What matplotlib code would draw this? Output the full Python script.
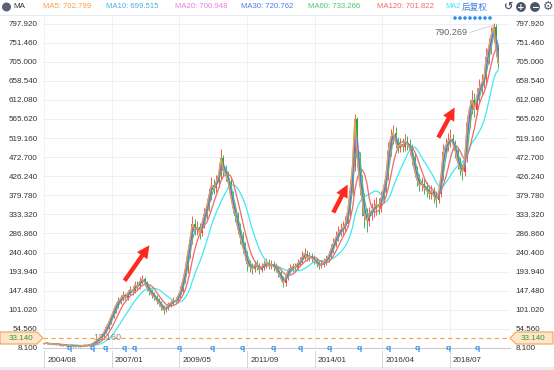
import numpy as np
import pandas as pd
import matplotlib
matplotlib.use("Agg")
import matplotlib.pyplot as plt
from matplotlib.patches import Polygon, FancyArrowPatch, Circle
from matplotlib.lines import Line2D
from matplotlib.transforms import IdentityTransform

W, H = 554, 370

# monthly bars, index 0 = 2004/08
closes = [
    19, 20, 18, 19, 17, 18, 16, 15, 16, 14, 13, 14, 12, 13, 12, 14, 13, 15, 14, 16,
    18, 22, 26, 32, 38, 46, 58, 70, 84, 98, 112, 122, 128, 136, 130, 142, 150, 146, 162, 158,
    170, 176, 168, 155, 146, 138, 132, 124, 118, 108, 100, 106, 114, 118, 124, 122, 134, 148, 172, 198,
    236, 270, 310, 296, 302, 288, 310, 334, 352, 380, 405, 398, 412, 430, 470, 440, 430, 412, 380, 350,
    330, 300, 278, 256, 236, 212, 206, 200, 210, 208, 198, 206, 212, 216, 208, 212, 206, 200, 190, 178,
    166, 180, 196, 202, 206, 204, 214, 218, 230, 238, 228, 232, 226, 222, 214, 208, 212, 216, 224, 232,
    248, 262, 276, 288, 296, 300, 310, 340, 390, 450, 565, 470, 410, 370, 330, 318, 336, 342, 350, 358,
    352, 372, 396, 426, 488, 520, 532, 510, 496, 504, 498, 512, 504, 494, 470, 440, 418, 404, 408, 398,
    392, 384, 390, 378, 368, 384, 424, 486, 500, 512, 518, 506, 488, 460, 444, 436, 470, 556, 592, 612,
    588, 620, 640, 652, 664, 716, 740, 768, 790, 738, 702,
]
highs = [
    21, 22, 21, 20, 20, 19, 19, 17, 17, 17, 15, 15, 15, 14, 14, 15, 15, 16, 16, 17,
    20, 24, 28, 35, 42, 50, 62, 76, 90, 106, 120, 132, 138, 146, 142, 150, 160, 158, 170, 172,
    180, 186, 182, 172, 160, 152, 144, 136, 130, 122, 112, 112, 120, 126, 132, 132, 142, 158, 182, 210,
    250, 286, 330, 322, 318, 312, 324, 350, 370, 398, 424, 420, 430, 448, 492, 478, 454, 440, 420, 390,
    362, 340, 312, 290, 266, 244, 222, 214, 220, 222, 216, 214, 222, 228, 224, 222, 220, 214, 206, 196,
    184, 188, 204, 212, 216, 214, 224, 230, 244, 252, 246, 242, 240, 234, 228, 220, 220, 226, 234, 244,
    262, 276, 292, 304, 312, 318, 330, 362, 416, 478, 578, 570, 486, 430, 386, 350, 352, 360, 370, 376,
    374, 390, 414, 448, 510, 540, 550, 546, 522, 520, 520, 528, 524, 516, 504, 482, 452, 432, 424, 420,
    412, 404, 406, 400, 390, 398, 440, 504, 520, 532, 540, 530, 514, 496, 474, 456, 486, 572, 612, 636,
    628, 642, 662, 676, 690, 738, 762, 790, 798, 796, 748,
]
lows = [
    17, 18, 17, 17, 16, 16, 15, 13, 14, 12, 11, 12, 10, 11, 11, 11, 12, 12, 13, 13,
    15, 17, 21, 24, 30, 36, 44, 55, 66, 80, 94, 106, 116, 122, 124, 126, 136, 138, 142, 150,
    152, 164, 160, 148, 138, 130, 124, 116, 110, 100, 92, 96, 100, 108, 112, 114, 118, 130, 144, 166,
    190, 228, 262, 282, 284, 274, 280, 300, 322, 342, 368, 384, 388, 400, 420, 426, 414, 398, 366, 336,
    314, 286, 262, 240, 222, 196, 192, 188, 194, 198, 188, 192, 198, 204, 200, 200, 196, 192, 180, 170,
    156, 160, 174, 190, 194, 196, 198, 208, 212, 222, 220, 220, 218, 212, 206, 200, 202, 206, 210, 218,
    226, 240, 254, 268, 280, 284, 290, 302, 330, 380, 440, 450, 380, 330, 300, 290, 304, 320, 326, 332,
    334, 340, 362, 386, 416, 476, 504, 494, 482, 484, 484, 488, 490, 478, 454, 424, 402, 390, 390, 384,
    376, 370, 370, 362, 352, 360, 376, 416, 476, 488, 498, 490, 470, 444, 428, 418, 426, 462, 544, 578,
    570, 576, 608, 626, 640, 650, 700, 724, 752, 720, 690,
]

date_labels = ["2004/08", "2007/01", "2009/05", "2011/09", "2014/01", "2016/04", "2018/07"]
date_idx = [0, 28.3, 56.6, 84.9, 113.2, 141.5, 169.8]

ytick_labels = ["8.100", "54.560", "101.020", "147.480", "193.940", "240.400", "286.860",
                "333.320", "379.780", "426.240", "472.700", "519.160", "565.620", "612.080",
                "658.540", "705.000", "751.460", "797.920"]

ma_names = ["MA5", "MA10", "MA20", "MA30", "MA60", "MA120", "MA250"]
ma_values = ["702.799", "699.515", "700.948", "720.762", "733.266", "701.822"]
ma_windows = [1, 1, 2, 2, 3, 6, 12]   # in monthly samples
ma_colors = ["#f5a045", "#4bb0e6", "#e87ee6", "#4a78ec", "#4cc46e", "#f26868", "#3eeaf0"]

div_idx = [10.5, 20.1, 25.5, 33.5, 37.7, 56.5, 70.3, 82.8, 95.8, 107.1, 119.2,
           131.8, 143.9, 156.1, 169.0, 181.2]

ref_price = 33.14
peak_label = "790.269"
low_label = "12.160"

plt.rcParams["font.family"] = ["Liberation Sans", "DejaVu Sans"]

fig = plt.figure(figsize=(W / 100, H / 100), dpi=100)
fig.patch.set_facecolor("white")
ax = fig.add_axes([43 / W, (H - 348) / H, 467 / W, 332 / H])

c = np.array(closes, dtype=float)
o = np.r_[c[0], c[:-1]]
hi = np.array(highs, dtype=float)
lo = np.array(lows, dtype=float)
x = np.arange(len(c))
up = c >= o
for m, col in [(up, "#f2403c"), (~up, "#25a846")]:
    ax.vlines(x[m], lo[m], hi[m], color=col, lw=0.6, zorder=3)
    ax.bar(x[m], np.maximum(np.abs(c[m] - o[m]), 2), bottom=np.minimum(c[m], o[m]),
           width=0.8, color=col, lw=0, zorder=3)

s = pd.Series(c)
for k in [6, 5, 4, 2, 1, 3, 0]:
    ma = s.rolling(ma_windows[k]).mean()
    ax.plot(x, ma, color=ma_colors[k], lw=0.9, zorder=4)

yt = [float(v) for v in ytick_labels]
ax.set_ylim(8.1, 816.2)
ax.set_xlim(-0.5, 194.9)
ax.set_yticks(yt)
ax.set_yticklabels(ytick_labels)
ax.set_xticks(date_idx)
ax.set_xticklabels([])
ax.tick_params(axis="y", length=0, labelsize=5.8, labelcolor="#333333",
               labelleft=True, labelright=True, pad=4)
ax.tick_params(axis="x", length=0)
ax.grid(True, color="#edf0f4", lw=0.7)
ax.set_axisbelow(True)
for sp in ["left", "right", "top"]:
    ax.spines[sp].set_visible(False)
ax.spines["bottom"].set_color("#c9cdd3")
ax.spines["bottom"].set_linewidth(0.8)

# reference price line
ax.axhline(ref_price, color="#f5a045", lw=0.8, ls=(0, (4, 3)), zorder=5)

# dividend markers
for d in div_idx:
    ax.text(d, 8.1, "q", color="#2d8cf0", fontsize=6, fontweight="bold",
            ha="center", va="center", clip_on=False, zorder=6)

# annotations
ax.text(177, 775, peak_label, fontsize=6.6, color="#666666", ha="right", va="center", zorder=6)
ax.plot([178, 188], [776, 794], color="#cccccc", lw=0.6, zorder=6)
ax.text(26.5, 33, low_label, fontsize=6.6, color="#888888", ha="center", va="center", zorder=6)


def fx(px, py):
    return px / W, 1 - py / H


def ptxt(px, py, t, **kw):
    return fig.text(px / W, 1 - py / H, t, **kw)


# price tag boxes
for pts, tx in [([(0, 332), (37, 332), (43, 338), (37, 344), (0, 344)], 21),
                ([(510, 338), (516, 332), (553, 332), (553, 344), (516, 344)], 533)]:
    fig.add_artist(Polygon([fx(*p) for p in pts], closed=True, transform=fig.transFigure,
                           facecolor="#fde6cb", edgecolor="#f2a54e", lw=0.8, zorder=10))
    ptxt(tx, 338.5, "33.140", fontsize=5.8, color="#3b9a2c", ha="center", va="center", zorder=11)

# bottom date strip
fig.add_artist(Polygon([fx(0, 367), fx(W, 367), fx(W, 370), fx(0, 370)], closed=True,
                       transform=fig.transFigure, facecolor="#e8ebef", lw=0))
for d, lab in zip(date_idx, date_labels):
    px = 43 + (d + 0.5) * 467 / 195.4
    fig.add_artist(Line2D([px / W, px / W], [1 - 351 / H, 1 - 367 / H], color="#d3d7dc", lw=0.7))
    ptxt(px + 3, 361, lab, fontsize=5.8, color="#333333", ha="left", va="center")

# header
fig.add_artist(Line2D([0, 1], [1 - 15 / H, 1 - 15 / H], color="#e6e9ed", lw=0.7))
fig.add_artist(Circle((6.5, H - 7), 3.8, transform=IdentityTransform(), color="#5b6477"))
ptxt(13, 7, "MA", fontsize=5.8, color="#333333", va="center")
head_x = [43, 106, 175, 241, 308, 377]
for hx, nm, v, col in zip(head_x, ma_names, ma_values, ma_colors):
    ptxt(hx, 7, f"{nm}: {v}", fontsize=5.6, color=col, va="center")
ptxt(445, 7, "MA2", fontsize=5.3, color=ma_colors[6], va="center")
ptxt(462, 7, "后复权", fontsize=6.2, color="#3f7de0", va="center",
     family=["Noto Sans CJK SC", "DejaVu Sans"])
ptxt(508, 7, "↺", fontsize=8, color="#4a5568", ha="center", va="center",
     family=["DejaVu Sans"], fontweight="bold")
for cx, sym in [(521, "+"), (535, "−")]:
    fig.add_artist(Circle((cx, H - 7), 4.2, transform=IdentityTransform(), color="#4a5568"))
    ptxt(cx, 7, sym, fontsize=6.5, color="white", ha="center", va="center",
         fontweight="bold", family=["DejaVu Sans"])
ptxt(548, 7, "⚙", fontsize=8.5, color="#4a5568", ha="center", va="center", family=["DejaVu Sans"])
for i in range(8):
    fig.add_artist(Circle((455 + i * 5, H - 18), 1.1, transform=IdentityTransform(), color="#2d8cf0"))

# red arrows
for (x0, y0), (x1, y1) in [((123, 283), (151, 243)), ((332, 215), (349, 182)), ((437, 140), (456, 105))]:
    fig.add_artist(FancyArrowPatch((x0, H - y0), (x1, H - y1), transform=IdentityTransform(),
                                   arrowstyle="simple,head_width=1.3,head_length=1.3,tail_width=0.45",
                                   mutation_scale=7, color="#ff2a1e", lw=0, zorder=12))

fig.savefig("out.png", dpi=100)
